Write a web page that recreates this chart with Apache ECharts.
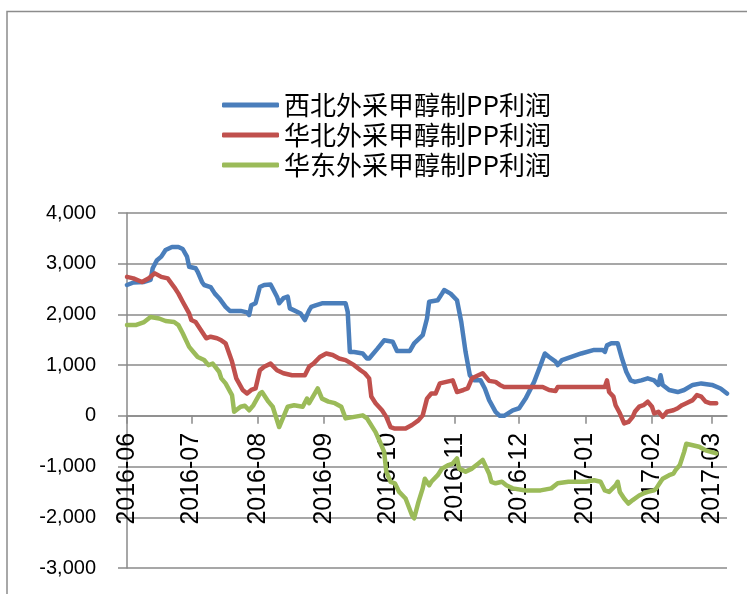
<!DOCTYPE html>
<html>
<head>
<meta charset="utf-8">
<script src="https://cdn.jsdelivr.net/npm/echarts@6/dist/echarts.min.js"></script>
<style>
  html, body { margin: 0; padding: 0; background: #fff; }
  #chart { width: 747px; height: 594px; }
</style>
</head>
<body>
<div id="chart"></div>
<script>
// Series names
const seriesNames = ['西北外采甲醇制PP利润', '华北外采甲醇制PP利润', '华东外采甲醇制PP利润'];
const seriesColors = ['#4a7ebb', '#c0504d', '#9bbb59'];

// Axis ranges
const dateMin = '2016-06-01';
const dateMax = '2017-03-08';
const yTicks = [-3000, -2000, -1000, 0, 1000, 2000, 3000, 4000];

// 西北外采甲醇制PP利润 (元/吨)
const xibeiData = [
  ['2016-06-01',2580],['2016-06-04',2630],['2016-06-09',2640],['2016-06-12',2680],['2016-06-13',2910],
  ['2016-06-15',3070],['2016-06-17',3140],['2016-06-19',3270],['2016-06-22',3330],['2016-06-25',3330],
  ['2016-06-27',3290],['2016-06-29',3140],['2016-06-30',2940],['2016-07-03',2910],['2016-07-04',2840],
  ['2016-07-06',2640],['2016-07-07',2580],['2016-07-10',2540],['2016-07-12',2410],['2016-07-14',2320],
  ['2016-07-17',2150],['2016-07-19',2070],['2016-07-24',2070],['2016-07-27',2040],['2016-07-28',1990],
  ['2016-07-29',2180],['2016-07-31',2220],['2016-08-02',2540],['2016-08-04',2580],['2016-08-07',2590],
  ['2016-08-08',2510],['2016-08-10',2350],['2016-08-11',2220],['2016-08-13',2320],['2016-08-15',2350],
  ['2016-08-16',2120],['2016-08-18',2080],['2016-08-21',2020],['2016-08-23',1890],['2016-08-25',2080],
  ['2016-08-26',2150],['2016-08-28',2180],['2016-08-31',2220],['2016-09-05',2220],['2016-09-11',2220],
  ['2016-09-12',2050],['2016-09-13',1260],['2016-09-15',1260],['2016-09-19',1230],['2016-09-21',1130],
  ['2016-09-22',1130],['2016-09-26',1330],['2016-09-29',1490],['2016-10-03',1460],['2016-10-05',1280],
  ['2016-10-11',1280],['2016-10-13',1430],['2016-10-17',1590],['2016-10-19',1920],['2016-10-20',2250],
  ['2016-10-24',2280],['2016-10-26',2410],['2016-10-27',2480],['2016-10-30',2410],['2016-11-02',2280],
  ['2016-11-04',1850],['2016-11-06',1260],['2016-11-08',800],['2016-11-10',700],['2016-11-13',700],
  ['2016-11-15',540],['2016-11-17',310],['2016-11-20',80],['2016-11-22',0],['2016-11-24',0],
  ['2016-11-28',110],['2016-12-01',150],['2016-12-04',340],['2016-12-08',670],['2016-12-11',1000],
  ['2016-12-13',1230],['2016-12-15',1160],['2016-12-18',1070],['2016-12-19',1000],['2016-12-21',1100],
  ['2016-12-25',1160],['2016-12-30',1230],['2017-01-05',1300],['2017-01-09',1300],['2017-01-10',1260],
  ['2017-01-11',1390],['2017-01-13',1430],['2017-01-16',1430],['2017-01-18',1130],['2017-01-20',870],
  ['2017-01-22',700],['2017-01-24',670],['2017-01-27',700],['2017-01-30',740],['2017-02-02',700],
  ['2017-02-04',610],['2017-02-05',800],['2017-02-06',610],['2017-02-09',510],['2017-02-13',470],
  ['2017-02-16',510],['2017-02-20',610],['2017-02-24',640],['2017-03-01',610],['2017-03-05',540],
  ['2017-03-08',440]
];

// 华北外采甲醇制PP利润 (元/吨)
const huabeiData = [
  ['2016-06-01',2740],['2016-06-04',2710],['2016-06-08',2640],['2016-06-11',2710],['2016-06-14',2810],
  ['2016-06-17',2740],['2016-06-20',2710],['2016-06-23',2540],['2016-06-25',2410],['2016-06-27',2250],
  ['2016-06-30',2020],['2016-07-01',1890],['2016-07-03',1850],['2016-07-06',1660],['2016-07-08',1530],
  ['2016-07-10',1560],['2016-07-13',1530],['2016-07-15',1490],['2016-07-17',1430],['2016-07-20',1070],
  ['2016-07-22',740],['2016-07-25',510],['2016-07-27',440],['2016-07-29',510],['2016-07-31',540],
  ['2016-08-02',900],['2016-08-04',970],['2016-08-07',1030],['2016-08-10',900],['2016-08-13',840],
  ['2016-08-17',800],['2016-08-23',800],['2016-08-25',970],['2016-08-27',1030],['2016-08-30',1160],
  ['2016-09-02',1230],['2016-09-05',1200],['2016-09-08',1130],['2016-09-11',1100],['2016-09-15',1000],
  ['2016-09-18',900],['2016-09-20',840],['2016-09-22',740],['2016-09-23',380],['2016-09-25',250],
  ['2016-09-28',110],['2016-09-30',-20],['2016-10-02',-220],['2016-10-04',-250],['2016-10-09',-250],
  ['2016-10-12',-180],['2016-10-15',-90],['2016-10-17',10],['2016-10-19',340],['2016-10-21',440],
  ['2016-10-23',440],['2016-10-25',640],['2016-10-28',670],['2016-10-31',700],['2016-11-02',470],
  ['2016-11-05',510],['2016-11-07',540],['2016-11-09',740],['2016-11-12',800],['2016-11-14',840],
  ['2016-11-17',690],['2016-11-20',670],['2016-11-22',610],['2016-11-24',570],['2016-12-12',570],
  ['2016-12-15',510],['2016-12-18',490],['2016-12-19',570],['2017-01-10',570],['2017-01-11',700],
  ['2017-01-12',470],['2017-01-14',380],['2017-01-15',210],['2017-01-17',50],['2017-01-19',-150],
  ['2017-01-21',-120],['2017-01-23',-20],['2017-01-24',80],['2017-01-26',180],['2017-01-28',210],
  ['2017-01-30',280],['2017-02-01',180],['2017-02-02',50],['2017-02-04',80],['2017-02-06',-20],
  ['2017-02-08',80],['2017-02-11',110],['2017-02-13',150],['2017-02-15',210],['2017-02-17',250],
  ['2017-02-20',310],['2017-02-22',410],['2017-02-24',380],['2017-02-26',280],['2017-02-28',250],
  ['2017-03-03',250]
];

// 华东外采甲醇制PP利润 (元/吨)
const huadongData = [
  ['2016-06-01',1790],['2016-06-05',1790],['2016-06-09',1850],['2016-06-12',1950],['2016-06-16',1920],
  ['2016-06-19',1870],['2016-06-23',1850],['2016-06-25',1790],['2016-06-27',1630],['2016-06-30',1360],
  ['2016-07-02',1260],['2016-07-04',1160],['2016-07-07',1100],['2016-07-09',1000],['2016-07-11',1030],
  ['2016-07-14',870],['2016-07-15',740],['2016-07-17',640],['2016-07-20',410],['2016-07-21',80],
  ['2016-07-24',180],['2016-07-26',200],['2016-07-28',110],['2016-07-30',210],['2016-08-02',440],
  ['2016-08-03',470],['2016-08-06',280],['2016-08-08',180],['2016-08-11',-220],['2016-08-13',-20],
  ['2016-08-15',180],['2016-08-18',210],['2016-08-22',180],['2016-08-24',340],['2016-08-25',250],
  ['2016-08-28',470],['2016-08-29',540],['2016-08-31',340],['2016-09-03',280],['2016-09-06',250],
  ['2016-09-09',180],['2016-09-11',-50],['2016-09-15',-20],['2016-09-19',10],['2016-09-21',-50],
  ['2016-09-22',-120],['2016-09-25',-320],['2016-09-27',-510],['2016-09-29',-710],['2016-09-30',-1100],
  ['2016-10-02',-1300],['2016-10-04',-1330],['2016-10-06',-1500],['2016-10-09',-1630],['2016-10-12',-1960],
  ['2016-10-13',-2020],['2016-10-15',-1700],['2016-10-17',-1430],['2016-10-18',-1240],['2016-10-20',-1370],
  ['2016-10-21',-1300],['2016-10-24',-1170],['2016-10-26',-1040],['2016-10-29',-970],['2016-10-31',-940],
  ['2016-11-02',-840],['2016-11-03',-1040],['2016-11-06',-1100],['2016-11-09',-1040],['2016-11-12',-940],
  ['2016-11-14',-870],['2016-11-17',-1140],['2016-11-18',-1300],['2016-11-20',-1330],['2016-11-23',-1300],
  ['2016-11-25',-1370],['2016-11-28',-1430],['2016-12-04',-1470],['2016-12-11',-1470],['2016-12-16',-1430],
  ['2016-12-19',-1330],['2016-12-24',-1300],['2017-01-01',-1300],['2017-01-05',-1270],['2017-01-08',-1300],
  ['2017-01-10',-1470],['2017-01-12',-1500],['2017-01-15',-1370],['2017-01-16',-1300],['2017-01-17',-1500],
  ['2017-01-19',-1630],['2017-01-21',-1730],['2017-01-23',-1660],['2017-01-26',-1570],['2017-01-28',-1530],
  ['2017-01-30',-1500],['2017-02-02',-1470],['2017-02-03',-1430],['2017-02-05',-1300],['2017-02-06',-1240],
  ['2017-02-09',-1170],['2017-02-11',-1140],['2017-02-12',-1070],['2017-02-14',-970],['2017-02-16',-710],
  ['2017-02-17',-550],['2017-02-20',-580],['2017-02-23',-610],['2017-02-26',-680],['2017-03-03',-740]
];

const allData = [xibeiData, huabeiData, huadongData];

const chart = echarts.init(document.getElementById('chart'), null, { renderer: 'canvas' });

const gridColor = '#8a8a8a';
const gridTop = 213;
const gridBottom = 26;
const chartHeight = 594;

// The date axis sits on the zero line: shift it up from the grid's bottom edge
const plotHeight = chartHeight - gridTop - gridBottom;
const zeroShift = plotHeight * (0 - yTicks[0]) / (yTicks[yTicks.length - 1] - yTicks[0]);

const option = {
  animation: false,
  backgroundColor: '#ffffff',
  graphic: [{
    type: 'rect',
    shape: { x: 7, y: 11.5, width: 800, height: 700 },
    style: { fill: 'none', stroke: '#8c8c8c', lineWidth: 1.5 },
    silent: true,
    z: -1
  }],
  legend: {
    orient: 'vertical',
    left: 217,
    top: 85,
    itemWidth: 57,
    itemHeight: 5,
    itemGap: 0,
    icon: 'roundRect',
    textStyle: {
      fontFamily: '"Noto Sans CJK SC", sans-serif',
      fontSize: 26,
      lineHeight: 30,
      color: '#000'
    },
    data: seriesNames
  },
  grid: {
    left: 127,
    right: 20,
    top: gridTop,
    bottom: gridBottom,
    containLabel: false,
    outerBoundsMode: 'none'
  },
  xAxis: {
    type: 'time',
    min: dateMin,
    max: dateMax,
    splitNumber: 10,
    maxInterval: 31 * 86400000,
    offset: -zeroShift,
    z: 1,
    axisLine: { onZero: false, lineStyle: { color: gridColor, width: 1.5 } },
    axisTick: { show: true, length: 8, lineStyle: { color: gridColor, width: 1.5 } },
    minorTick: { show: false },
    splitLine: { show: false },
    axisLabel: {
      rotate: 90,
      margin: 17,
      color: '#000',
      fontFamily: '"Liberation Sans", Arial, sans-serif',
      fontSize: 25,
      hideOverlap: false,
      formatter: '{yyyy}-{MM}'
    }
  },
  yAxis: {
    type: 'value',
    min: yTicks[0],
    max: yTicks[yTicks.length - 1],
    interval: 1000,
    axisLine: { show: true, lineStyle: { color: gridColor, width: 1.5 } },
    axisTick: { show: true, length: 9, lineStyle: { color: gridColor, width: 1.5 } },
    splitLine: { show: true, lineStyle: { color: gridColor, width: 1.5 } },
    axisLabel: {
      margin: 31,
      color: '#000',
      fontFamily: '"Liberation Sans", Arial, sans-serif',
      fontSize: 20,
      formatter: v => v.toLocaleString('en-US')
    }
  },
  series: seriesNames.map((name, i) => ({
    name,
    type: 'line',
    data: allData[i],
    showSymbol: false,
    symbol: 'none',
    color: seriesColors[i],
    lineStyle: { width: 4.5, color: seriesColors[i], cap: 'round', join: 'round' },
    z: 3 + i
  }))
};

chart.setOption(option);
</script>
</body>
</html>
